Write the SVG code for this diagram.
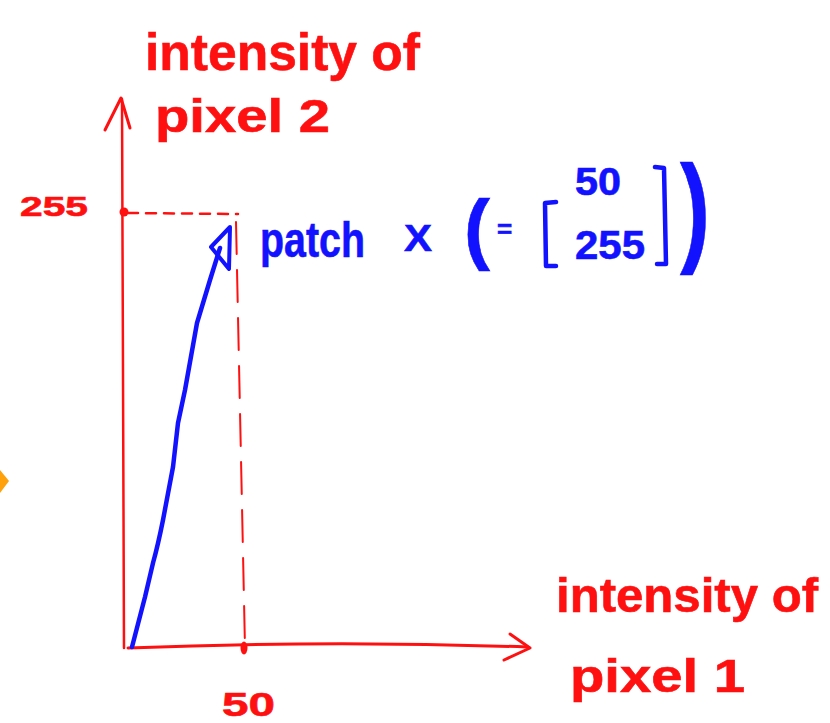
<svg xmlns="http://www.w3.org/2000/svg" width="830" height="723" viewBox="0 0 830 723">
<defs>
<style>
.red{fill:#ff1010;font-family:"Liberation Sans",Arial,sans-serif;font-weight:bold;stroke:#ff1010;stroke-width:0.6}
.blue{fill:#1212ff;font-family:"Liberation Sans",Arial,sans-serif;font-weight:bold;stroke:#1212ff;stroke-width:0.6}
.rl{fill:none;stroke:#ff1010;stroke-linecap:round;stroke-linejoin:round}
.bl{fill:none;stroke:#1212ff;stroke-linecap:round;stroke-linejoin:round}
</style>
</defs>
<rect width="830" height="723" fill="#ffffff"/>
<polygon points="0,470 9,481 0,493 -9,481" fill="#ffa10a"/>
<g id="connectors">
<g id="y-axis">
<path class="rl" d="M124,648 L122,99" stroke-width="2.5"/>
<path class="rl" d="M105,130 L121,98 L130,128" stroke-width="3"/>
</g>
<g id="x-axis">
<path class="rl" d="M128,648 Q330,640 527,647" stroke-width="3"/>
<path class="rl" d="M510,634 L530,648 L504,660" stroke-width="3"/>
</g>
<g id="guides">
<path class="rl" d="M128,213 L238,214" stroke-width="2.5" stroke-dasharray="10 8"/>
<path class="rl" d="M236,222 L245,648" stroke-width="2" stroke-dasharray="32 16"/>
<circle cx="124" cy="212" r="4.5" fill="#ff1010"/>
<ellipse cx="244" cy="648" rx="3.5" ry="6.5" fill="#ff1010"/>
</g>
<g id="vector">
<path class="bl" d="M132,647 L145,597 L153,563 Q158,545 163,520 L173,467 L178,423 L185,390 L197,323 L210,280 L220,248" stroke-width="4.5"/>
<path class="bl" d="M230,227 L211,247 L229,269 Z" stroke-width="4"/>
</g>
</g>
<g id="y-label">
<text class="red" x="145" y="70" font-size="52" textLength="275" lengthAdjust="spacingAndGlyphs">intensity of</text>
<text class="red" x="155" y="132" font-size="46" textLength="175" lengthAdjust="spacingAndGlyphs">pixel 2</text>
</g>
<g id="x-label">
<text class="red" x="556" y="612" font-size="49" textLength="262" lengthAdjust="spacingAndGlyphs">intensity of</text>
<text class="red" x="570" y="692" font-size="46" textLength="175" lengthAdjust="spacingAndGlyphs">pixel 1</text>
</g>
<g id="tick-255">
<text class="red" x="20" y="216" font-size="28" textLength="68" lengthAdjust="spacingAndGlyphs">255</text>
</g>
<g id="tick-50">
<text class="red" x="222" y="716" font-size="34" textLength="53" lengthAdjust="spacingAndGlyphs">50</text>
</g>
<g id="patch-label">
<text class="blue" x="260" y="257" font-size="50" textLength="105" lengthAdjust="spacingAndGlyphs">patch</text>
<text class="blue" x="404" y="251" font-size="36" textLength="28" lengthAdjust="spacingAndGlyphs">X</text>
<text class="blue" x="464" y="255" font-size="78">(</text>
<text class="blue" x="497" y="238" font-size="26">=</text>
<path class="bl" d="M556,202 L545,203 L546,266 L556,266" stroke-width="4.5"/>
<text class="blue" x="575" y="195" font-size="38" textLength="46" lengthAdjust="spacingAndGlyphs">50</text>
<text class="blue" x="575" y="259" font-size="40" textLength="70" lengthAdjust="spacingAndGlyphs">255</text>
<path class="bl" d="M655,167 L664,168 L666,264 L657,264" stroke-width="4.5"/>
<text class="blue" x="680" y="250" font-size="120" textLength="30" lengthAdjust="spacingAndGlyphs">)</text>
</g>
</svg>
